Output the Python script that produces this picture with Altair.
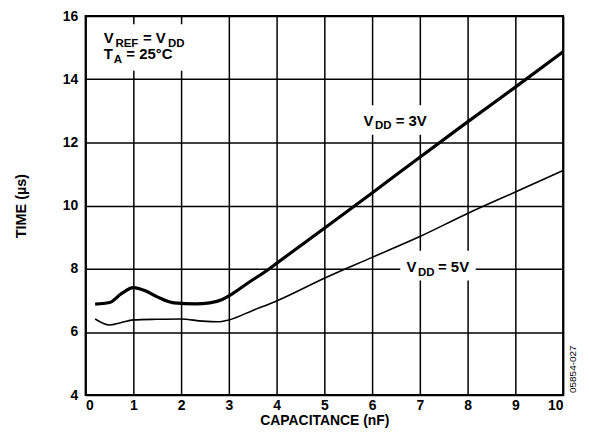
import altair as alt
import pandas as pd

# ---- data ----
cap_3v = [0.2, 0.5, 0.75, 1.0, 1.25, 1.5, 1.85, 2.3, 2.6, 2.85, 3.0, 3.4, 3.85, 4.0, 5.0, 6.0, 7.0, 8.0, 9.0, 10.0]
time_3v = [6.88, 6.93, 7.21, 7.40, 7.30, 7.11, 6.92, 6.89, 6.92, 7.02, 7.14, 7.55, 8.00, 8.17, 9.28, 10.40, 11.53, 12.65, 13.75, 14.87]

cap_5v = [0.2, 0.5, 0.75, 1.0, 1.5, 2.0, 2.45, 2.75, 3.0, 3.5, 4.0, 5.0, 6.0, 7.0, 8.0, 9.0, 10.0]
time_5v = [6.41, 6.22, 6.30, 6.38, 6.40, 6.41, 6.34, 6.32, 6.38, 6.68, 6.98, 7.70, 8.36, 9.02, 9.75, 10.43, 11.11]

x_ticks = list(range(0, 11))
y_ticks = [4, 6, 8, 10, 12, 14, 16]

df3 = pd.DataFrame({"cap": cap_3v, "time": time_3v})
df5 = pd.DataFrame({"cap": cap_5v, "time": time_5v})

FONT = "Liberation Sans"
xs = alt.Scale(domain=[0, 10], nice=False, zero=False)
ys = alt.Scale(domain=[4, 16], nice=False, zero=False)


def X(v):
    return alt.X(datum=v, scale=xs, type="quantitative")


def Y(v):
    return alt.Y(datum=v, scale=ys, type="quantitative")


def box(x1, x2, y1, y2):
    return alt.Chart().mark_rect(color="white").encode(
        x=X(x1), x2=alt.X2(datum=x2), y=Y(y1), y2=alt.Y2(datum=y2)
    )


def label(x0, y0, segments):
    layers = []
    for text, dx, sub in segments:
        layers.append(
            alt.Chart().mark_text(
                text=text, align="left", baseline="alphabetic", font=FONT,
                fontWeight="bold", fontSize=11.5 if sub else 15,
                dx=dx, dy=3.5 if sub else 0, color="black",
            ).encode(x=X(x0), y=Y(y0))
        )
    return layers


base_x = alt.X("cap:Q", scale=xs, title="CAPACITANCE (nF)",
               axis=alt.Axis(values=x_ticks, labelPadding=4, titlePadding=1,
                             titleFontSize=14, format="d"))
base_y = alt.Y("time:Q", scale=ys, title="TIME (µs)",
               axis=alt.Axis(values=y_ticks, labelPadding=8, titlePadding=34,
                             titleFontSize=14.5, format="d"))

line3 = alt.Chart(df3).mark_line(color="black", strokeWidth=3.2, interpolate="monotone").encode(x=base_x, y=base_y)
line5 = alt.Chart(df5).mark_line(color="black", strokeWidth=1.6, interpolate="monotone").encode(x=base_x, y=base_y)

boxes = [
    box(0.15, 2.5, 15.74, 14.27),
    box(5.67, 7.26, 13.18, 12.24),
    box(6.59, 8.17, 8.57, 7.63),
]

texts = []
texts += label(0.381, 15.14, [("V", 0, False), ("REF", 11.7, True), ("= V", 39.3, False), ("DD", 64.5, True)])
texts += label(0.381, 14.63, [("T", 0, False), ("A", 10, True), ("= 25°C", 22.7, False)])
texts += label(5.82, 12.525, [("V", 0, False), ("DD", 11.5, True), ("= 3V", 32.3, False)])
texts += label(6.72, 7.89, [("V", 0, False), ("DD", 11.7, True), ("= 5V", 31.7, False)])

code = alt.Chart().mark_text(
    text="05854-027", angle=270, align="center", baseline="middle",
    font=FONT, fontSize=10, color="black"
).encode(x=alt.value(490), y=alt.value(355))

chart = alt.layer(*boxes, line5, line3, *texts, code).properties(
    width=480, height=381,
    autosize=alt.AutoSizeParams(type="none"),
    padding={"left": 78, "top": 7, "right": 18, "bottom": 33},
).configure_view(
    stroke="black", strokeWidth=2
).configure_axis(
    grid=True, gridColor="black", gridWidth=1.5, gridOpacity=1,
    domain=False, ticks=False,
    labelFont=FONT, labelFontWeight="bold", labelFontSize=14, labelColor="black",
    titleFont=FONT, titleFontWeight="bold", titleColor="black",
)

chart.save("out.html", embed_options={"renderer": "svg", "actions": False})
